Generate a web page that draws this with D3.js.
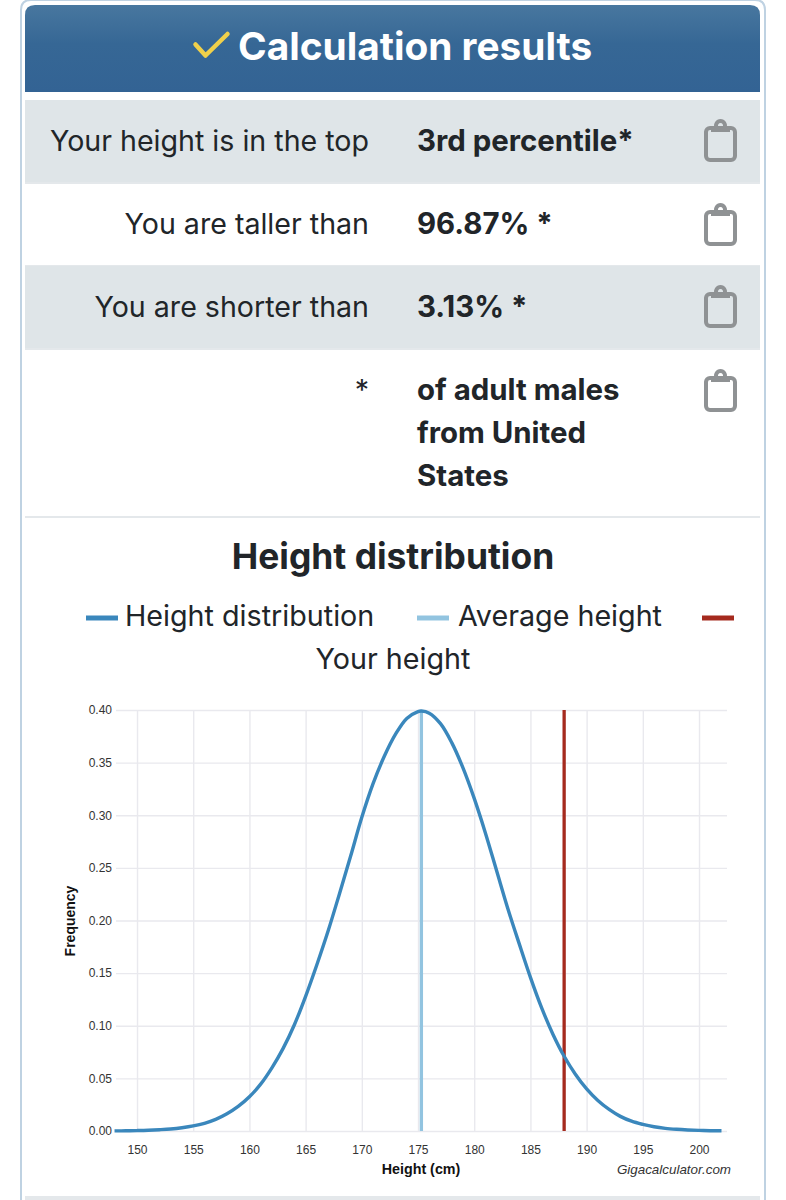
<!DOCTYPE html>
<html>
<head>
<meta charset="utf-8">
<title>Height distribution</title>
<script src="https://cdn.jsdelivr.net/npm/d3@7"></script>
<style>
  html, body { margin: 0; padding: 0; background: #fff; }
  svg { display: block; }
  text { font-family: Inter, Roboto, sans-serif; fill: #212529; }
  .chart text { font-family: "Liberation Sans", Arial, sans-serif; fill: #333; }
  .chart .domain { display: none; }
</style>
</head>
<body>
<div id="graph"></div>
<script>
// values
const heights = [148,149,150,151,152,153,154,155,156,157,158,159,160,161,162,163,164,165,166,167,168,169,170,171,172,173,174,175,175.3,176,177,178,179,180,181,182,183,184,185,186,187,188,189,190,191,192,193,194,195,196,197,198,199,200,201,202];
const frequency = [0.0001,0.0002,0.0004,0.0007,0.0012,0.0019,0.0031,0.0048,0.0073,0.011,0.0163,0.0233,0.0325,0.0445,0.06,0.0785,0.101,0.128,0.158,0.19,0.225,0.261,0.298,0.33,0.356,0.377,0.392,0.3985,0.399,0.397,0.387,0.369,0.345,0.316,0.283,0.247,0.211,0.178,0.146,0.117,0.092,0.071,0.054,0.04,0.029,0.0205,0.0139,0.0093,0.0063,0.004,0.0025,0.0016,0.001,0.0006,0.0003,0.0002];
const averageHeight = 175.3;
const yourHeight = 188;
const xTicks = [150,155,160,165,170,175,180,185,190,195,200];
const yTicks = [0,0.05,0.1,0.15,0.2,0.25,0.3,0.35,0.4];

const rowLabels = ["Your height is in the top", "You are taller than", "You are shorter than", "*"];
const rowValues = [["3rd percentile*"], ["96.87% *"], ["3.13% *"], ["of adult males", "from United", "States"]];
const rowTop = [100, 184, 266, 350];
const rowBottom = [182, 265, 348, 516];
const rowBase = [151, 233.5, 317, 400];

const width = 786, height = 1200;

let svg = d3.select("#graph").append("svg")
    .attr("width", width)
    .attr("height", height);

let defs = svg.append("defs");
let grad = defs.append("linearGradient")
    .attr("id", "head")
    .attr("x1", 0).attr("y1", 0).attr("x2", 0).attr("y2", 1);
grad.append("stop").attr("offset", "0%").attr("stop-color", "#48779f");
grad.append("stop").attr("offset", "45%").attr("stop-color", "#366795");
grad.append("stop").attr("offset", "100%").attr("stop-color", "#336394");

// card outline, open at the bottom
svg.append("path")
    .attr("d", "M21,1200 V10 Q21,0 31,0 H755 Q765,0 765,10 V1200")
    .attr("fill", "none")
    .attr("stroke", "#bfd2e2")
    .attr("stroke-width", 2);

// header
svg.append("path")
    .attr("d", "M25,92 V15 Q25,5 35,5 H750 Q760,5 760,15 V92 Z")
    .attr("fill", "url(#head)");
svg.append("path")
    .attr("d", "M195.5,44.5 L205.5,55.5 L227.5,34")
    .attr("fill", "none")
    .attr("stroke", "#f0d04a")
    .attr("stroke-width", 4.5)
    .attr("stroke-linecap", "round")
    .attr("stroke-linejoin", "round");
svg.append("text")
    .attr("x", 238).attr("y", 60)
    .style("font-size", "38.8px")
    .style("font-weight", 700)
    .style("fill", "#fff")
    .text("Calculation results");

// result rows
rowLabels.forEach(function(label, i) {
  if (i % 2 == 0 && i < 3) {
    svg.append("rect")
      .attr("x", 25).attr("y", rowTop[i])
      .attr("width", 735).attr("height", rowBottom[i] - rowTop[i])
      .attr("fill", "#dfe5e8");
  }
  svg.append("rect")
    .attr("x", 25).attr("y", rowBottom[i])
    .attr("width", 735).attr("height", 2)
    .attr("fill", "#e4e8eb");

  svg.append("text")
    .attr("x", 369).attr("y", rowBase[i])
    .style("text-anchor", "end")
    .style("font-size", "28.6px")
    .style("font-weight", 400)
    .text(label);

  rowValues[i].forEach(function(line, j) {
    svg.append("text")
      .attr("x", 417).attr("y", rowBase[i] + j * 43)
      .style("font-size", "29.4px")
      .style("font-weight", 700)
      .text(line);
  });

  // clipboard icon
  let icon = svg.append("g")
    .attr("transform", `translate(704, ${i == 3 ? 369 : rowTop[i] + 19})`)
    .attr("fill", "none")
    .attr("stroke", "#8f9294")
    .attr("stroke-width", 4);
  icon.append("rect")
    .attr("x", 2).attr("y", 9).attr("width", 29).attr("height", 32).attr("rx", 4);
  icon.append("path")
    .attr("d", "M7,13 V9 H10.5 A6.5,6.5 0 1 1 22.5,9 H26 V13 Z M16.5,4 a2.5,2.5 0 1 0 0.01,0 Z")
    .attr("fill", "#8f9294")
    .attr("fill-rule", "evenodd")
    .attr("stroke", "none");
});

// title and legend
svg.append("text")
    .attr("x", 393).attr("y", 569)
    .style("text-anchor", "middle")
    .style("font-size", "35.4px")
    .style("font-weight", 700)
    .text("Height distribution");

const legendNames = ["Height distribution", "Average height", ""];
const legendX = [86, 417, 702];
const legendTextX = [125, 458, 741];
const legendColors = ["#3a87bc", "#92c4e0", "#a52a1e"];
legendNames.forEach(function(name, i) {
  svg.append("line")
    .attr("x1", legendX[i]).attr("x2", legendX[i] + 32)
    .attr("y1", 618).attr("y2", 618)
    .attr("stroke", legendColors[i])
    .attr("stroke-width", 5);
  svg.append("text")
    .attr("x", legendTextX[i]).attr("y", 626)
    .style("font-size", "28.7px")
    .text(name);
});
svg.append("text")
    .attr("x", 393).attr("y", 669)
    .style("text-anchor", "middle")
    .style("font-size", "28.7px")
    .text("Your height");

// chart
let x = d3.scaleLinear()
    .domain([148.13, 202])
    .range([116, 721.5]);
let y = d3.scaleLinear()
    .domain([0, 0.4])
    .range([1131, 710]);

let chart = svg.append("g").attr("class", "chart");

chart.append("g")
    .attr("transform", "translate(0, 710)")
    .call(d3.axisBottom(x).tickValues(xTicks).tickSize(421).tickFormat(""))
    .call(g => g.selectAll("line").attr("stroke", "#e9e9ee").attr("stroke-width", 1.4));

chart.append("g")
    .attr("transform", "translate(116, 0)")
    .call(d3.axisLeft(y).tickValues(yTicks).tickSize(-611).tickPadding(4).tickFormat(d3.format(".2f")))
    .call(g => g.selectAll("line").attr("stroke", "#e9e9ee").attr("stroke-width", 1.4))
    .call(g => g.selectAll("text").style("font-size", "12px"));

chart.append("g")
    .attr("transform", "translate(0, 1131)")
    .call(d3.axisBottom(x).tickValues(xTicks).tickSize(0).tickPadding(14))
    .call(g => g.selectAll("text").style("font-size", "12px"));

chart.append("line")
    .attr("x1", x(averageHeight)).attr("x2", x(averageHeight))
    .attr("y1", y(0.4)).attr("y2", y(0))
    .attr("stroke", legendColors[1])
    .attr("stroke-width", 3.3);

chart.append("line")
    .attr("x1", x(yourHeight)).attr("x2", x(yourHeight))
    .attr("y1", y(0.4)).attr("y2", y(0))
    .attr("stroke", legendColors[2])
    .attr("stroke-width", 3.3);

let line = d3.line()
    .x(function(d, i) { return x(heights[i]); })
    .y(function(d) { return y(d); })
    .curve(d3.curveCatmullRom);

chart.append("path")
    .datum(frequency)
    .attr("d", line)
    .attr("fill", "none")
    .attr("stroke", legendColors[0])
    .attr("stroke-width", 3.4);

chart.append("text")
    .attr("x", 421).attr("y", 1174)
    .style("text-anchor", "middle")
    .style("font-size", "14.3px")
    .style("font-weight", 700)
    .style("fill", "#111")
    .text("Height (cm)");

chart.append("text")
    .attr("transform", "translate(75, 921) rotate(-90)")
    .style("text-anchor", "middle")
    .style("font-size", "14px")
    .style("font-weight", 700)
    .style("fill", "#111")
    .text("Frequency");

chart.append("text")
    .attr("x", 731).attr("y", 1174)
    .style("text-anchor", "end")
    .style("font-size", "13.4px")
    .style("font-style", "italic")
    .text("Gigacalculator.com");

// start of the next section
svg.append("rect")
    .attr("x", 25).attr("y", 1196)
    .attr("width", 735).attr("height", 4)
    .attr("fill", "#e4e8eb");
</script>
</body>
</html>
